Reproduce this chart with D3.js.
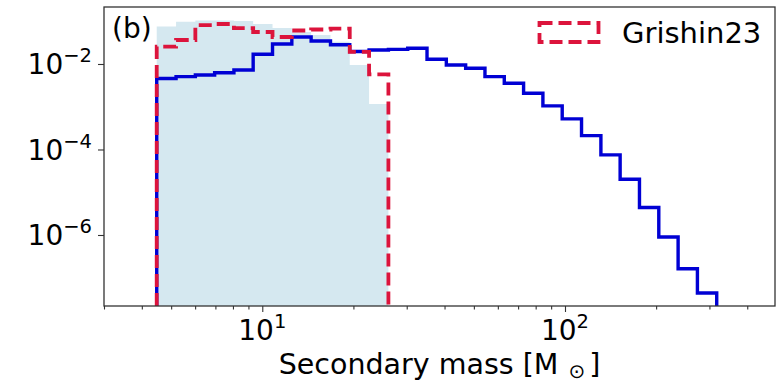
<!DOCTYPE html>
<html>
<head>
<meta charset="utf-8">
<script src="https://cdn.jsdelivr.net/npm/d3@7"></script>
<style>
  html, body { margin: 0; padding: 0; background: #fff; }
  svg { display: block; }
  text { font-family: "DejaVu Sans", sans-serif; fill: #000; }
</style>
</head>
<body>
<svg id="chart" width="776" height="384"></svg>
<script>
// ---------- data ----------
const binEdges = [4.48, 5.19, 6.01, 6.96, 8.06, 9.33, 10.81, 12.52, 14.50, 16.80,
  19.45, 22.53, 26.10, 30.23, 35.01, 40.55, 46.97, 54.40, 63.01, 72.98,
  84.53, 97.9, 113.4, 131.4, 152.1, 176.2, 204.1, 236.4, 273.8, 317.1];

// blue step histogram (29 bins)
const modelValues = [4.58e-3, 5.05e-3, 5.53e-3, 6.26e-3, 7.24e-3, 1.69e-2, 2.93e-2, 4.28e-2,
  3.44e-2, 2.82e-2, 1.96e-2, 2.12e-2, 2.20e-2, 2.33e-2, 1.29e-2, 9.48e-3, 7.94e-3,
  5.05e-3, 3.54e-3, 2.07e-3, 1.05e-3, 5.19e-4, 2.11e-4, 7.48e-5, 2.02e-5, 4.39e-6,
  8.94e-7, 1.62e-7, 4.40e-8];

// red dashed Grishin23 histogram (first 12 bins)
const grishinValues = [2.56e-2, 3.64e-2, 8.15e-2, 8.61e-2, 6.93e-2, 5.60e-2, 4.28e-2,
  6.07e-2, 6.40e-2, 6.75e-2, 1.91e-2, 5.69e-3];

// light-blue filled histogram (first 12 bins)
const filledValues = [7.52e-2, 9.73e-2, 0.1038, 0.1038, 0.1011, 8.61e-2, 6.93e-2,
  5.60e-2, 4.76e-2, 3.32e-2, 9.48e-3, 1.16e-3];

const xMajorTicks = [10, 100];
const xMajorLabels = [["10", "1"], ["10", "2"]];
const xMinorTicks = [3, 4, 5, 6, 7, 8, 9, 20, 30, 40, 50, 60, 70, 80, 90, 200, 300, 400];
const yMajorTicks = [1e-2, 1e-4, 1e-6];
const yMajorLabels = [["10", "\u22122"], ["10", "\u22124"], ["10", "\u22126"]];
const xDomain = [3, 494];
const yDomain = [10 ** -7.661, 10 ** -0.667];
const legendLabel = "Grishin23";
const panelLabel = "(b)";

// ---------- layout ----------
const svg = d3.select("#chart");
const L = 104, R = 775, T = 7, B = 306;
const fontSize = 28;

const x = d3.scaleLog().domain(xDomain).range([L, R]);
const y = d3.scaleLog().domain(yDomain).range([B, T]);

svg.append("defs").append("clipPath").attr("id", "clip")
  .append("rect").attr("x", L).attr("y", T).attr("width", R - L).attr("height", B - T);

function stepPoints(edges, values) {
  const pts = [[edges[0], yDomain[0]]];
  values.forEach((v, i) => {
    pts.push([edges[i], v]);
    pts.push([edges[i + 1], v]);
  });
  pts.push([edges[values.length], yDomain[0]]);
  return pts;
}

const line = d3.line().x(d => x(d[0])).y(d => y(d[1]));
const area = d3.area().x(d => x(d[0])).y0(y(yDomain[0])).y1(d => y(d[1]));

const plot = svg.append("g").attr("clip-path", "url(#clip)");

plot.append("path")
  .datum(stepPoints(binEdges, filledValues))
  .attr("d", area)
  .attr("fill", "#d5e8f0");

plot.append("path")
  .datum(stepPoints(binEdges, modelValues))
  .attr("d", line)
  .attr("fill", "none")
  .attr("stroke", "#0000d4")
  .attr("stroke-width", 3.4)
  .attr("stroke-linejoin", "miter");

plot.append("path")
  .datum(stepPoints(binEdges, grishinValues))
  .attr("d", line)
  .attr("fill", "none")
  .attr("stroke", "#dc143c")
  .attr("stroke-width", 3.8)
  .attr("stroke-dasharray", "13,6")
  .attr("stroke-linejoin", "miter");

// ---------- axes ----------
const axisColor = "#333";
svg.append("g").attr("transform", `translate(0,${B})`)
  .call(d3.axisBottom(x).tickValues(xMajorTicks).tickSize(6).tickFormat(""));
svg.append("g").attr("transform", `translate(0,${B})`)
  .call(d3.axisBottom(x).tickValues(xMinorTicks).tickSize(3.5).tickFormat(""));
svg.append("g").attr("transform", `translate(${L},0)`)
  .call(d3.axisLeft(y).tickValues(yMajorTicks).tickSize(6).tickFormat(""));
svg.selectAll(".domain").remove();
svg.selectAll(".tick line").attr("stroke", axisColor).attr("stroke-width", 1.1);

// x tick labels with superscripts
xMajorTicks.forEach((t, i) => {
  const txt = svg.append("text")
    .attr("x", x(t)).attr("y", 340)
    .attr("text-anchor", "middle")
    .attr("font-size", fontSize);
  txt.append("tspan").text(xMajorLabels[i][0]);
  txt.append("tspan").attr("font-size", 19.5).attr("dy", -12).text(xMajorLabels[i][1]);
});

// y tick labels with superscripts
yMajorTicks.forEach((t, i) => {
  const txt = svg.append("text")
    .attr("x", 92).attr("y", y(t) + 10.5)
    .attr("text-anchor", "end")
    .attr("font-size", fontSize);
  txt.append("tspan").text(yMajorLabels[i][0]);
  txt.append("tspan").attr("font-size", 19.5).attr("dy", -12).text(yMajorLabels[i][1]);
});

// frame
svg.append("rect")
  .attr("x", L).attr("y", T).attr("width", R - L).attr("height", B - T)
  .attr("fill", "none").attr("stroke", axisColor).attr("stroke-width", 1.3);

// x label
const xl = svg.append("text")
  .attr("x", (L + R) / 2).attr("y", 374)
  .attr("text-anchor", "middle")
  .attr("font-size", 28.5);
xl.append("tspan").text("Secondary mass [M");
xl.append("tspan").attr("font-size", 20).attr("dx", 10).attr("dy", 4).text("\u2299");
xl.append("tspan").attr("dx", 4).attr("dy", -4).text("]");

// panel label
svg.append("text").attr("x", 112).attr("y", 37.5)
  .attr("font-size", fontSize).text(panelLabel);

// legend
svg.append("rect")
  .attr("x", 539.5).attr("y", 23).attr("width", 59).attr("height", 19)
  .attr("fill", "none")
  .attr("stroke", "#dc143c").attr("stroke-width", 3.8)
  .attr("stroke-dasharray", "13,6");
svg.append("text").attr("x", 622).attr("y", 43)
  .attr("font-size", 29).text(legendLabel);
</script>
</body>
</html>
